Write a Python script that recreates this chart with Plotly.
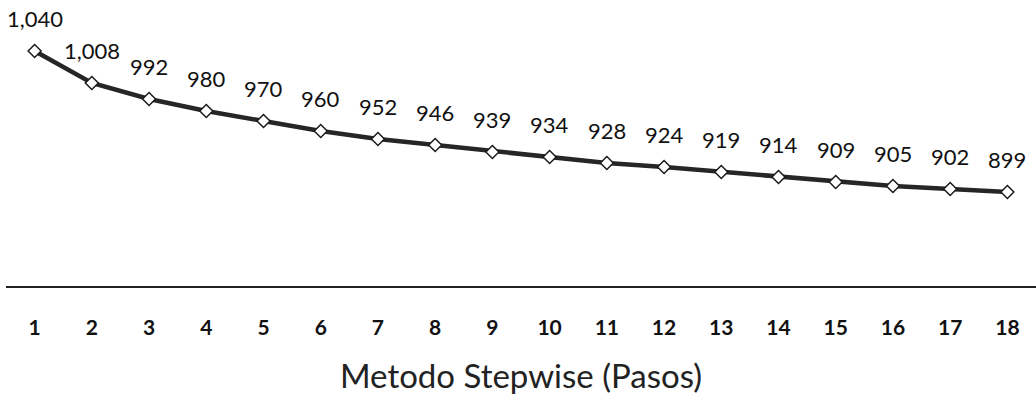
import plotly.graph_objects as go

pasos = [str(i) for i in range(1, 19)]
valores = [1040, 1008, 992, 980, 970, 960, 952, 946, 939, 934, 928, 924, 919, 914, 909, 905, 902, 899]
etiquetas = [f"{v:,}" for v in valores]

fuente = "Lato, 'Open Sans', sans-serif"

fig = go.Figure()
fig.add_trace(go.Scatter(
    x=pasos, y=valores, mode="lines+markers",
    line=dict(color="#262626", width=4.5),
    marker=dict(symbol="diamond", size=10, color="white",
                line=dict(color="#1a1a1a", width=1.5)),
    hoverinfo="skip",
))

# value labels above each point (category index used as x position)
for i, (y, t) in enumerate(zip(valores, etiquetas)):
    fig.add_annotation(x=i, y=y, text=t, showarrow=False, yshift=33,
                       font=dict(family=fuente, size=22, color="#111"))

fig.update_layout(
    width=1036, height=402,
    margin=dict(l=6, r=0, t=36, b=116),
    paper_bgcolor="white", plot_bgcolor="white",
    showlegend=False,
    xaxis=dict(
        type="category", range=[-0.5, 17.5],
        showline=True, linecolor="#222", linewidth=1.5,
        showgrid=False, zeroline=False, ticks="",
        tickfont=dict(family=fuente, size=21, color="#111", weight="bold"),
        ticklabelstandoff=22,
        title=dict(text="Metodo Stepwise (Pasos)", standoff=27,
                   font=dict(family=fuente, size=33, color="#222")),
    ),
    yaxis=dict(range=[805, 1055], visible=False, showgrid=False, zeroline=False),
)

fig.write_html("out.html")
